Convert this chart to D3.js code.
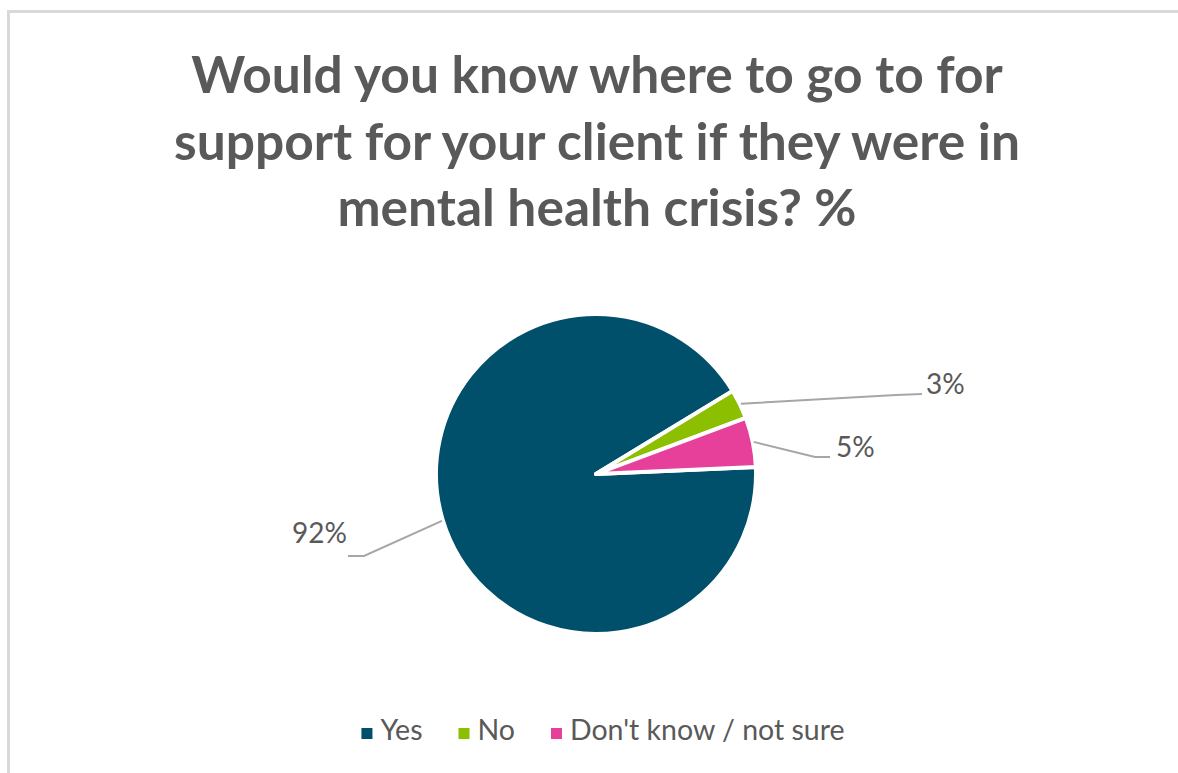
<!DOCTYPE html>
<html>
<head>
<meta charset="utf-8">
<script src="https://cdn.jsdelivr.net/npm/d3@7"></script>
<style>
  html, body { margin: 0; padding: 0; background: #fff; }
  svg { display: block; }
</style>
</head>
<body>
<svg id="chart" width="1178" height="773"></svg>
<script>
// Survey answers and their shares (percent)
const categories = ["Yes", "No", "Don't know / not sure"];
const values = [92, 3, 5];
const colors = ["#004f6b", "#8cbf00", "#e6409a"];
const titleLines = [
  "Would you know where to go to for",
  "support for your client if they were in",
  "mental health crisis? %"
];

const W = 1178, H = 773;
const svg = d3.select("#chart");
const FONT = "Lato, 'Open Sans', 'DejaVu Sans', sans-serif";

// chart frame
svg.append("rect")
  .attr("x", 8.5).attr("y", 11.5)
  .attr("width", W + 10).attr("height", H + 10)
  .attr("fill", "#fff")
  .attr("stroke", "#d9d9d9").attr("stroke-width", 3);

// title
svg.append("g").selectAll("text")
  .data(titleLines)
  .join("text")
  .attr("x", 597)
  .attr("y", (d, i) => 93 + i * 66.5)
  .attr("text-anchor", "middle")
  .attr("font-family", FONT)
  .attr("font-weight", 700)
  .attr("font-size", 51.5)
  .attr("fill", "#595959")
  .text(d => d);

// pie
const cx = 596, cy = 474, R = 160;
const start = 87.5 * Math.PI / 180;
const pie = d3.pie().sort(null).value(d => d)
  .startAngle(start).endAngle(start + 2 * Math.PI);
const arcs = pie(values);
const arc = d3.arc().innerRadius(0).outerRadius(R);

const g = svg.append("g").attr("transform", `translate(${cx},${cy})`);
g.selectAll("path")
  .data(arcs)
  .join("path")
  .attr("d", arc)
  .attr("fill", (d, i) => colors[i])
  .attr("stroke", "#fff")
  .attr("stroke-width", 4)
  .attr("stroke-linejoin", "round");

// data label placement: elbow and end of each leader, relative to the pie centre
const labelLayout = [
  { elbow: [-232, 82], end: [-248, 82], anchor: "end",   dx: -1, dy: -13 },
  { elbow: [300, -79], end: [326, -80], anchor: "start", dx: 4,  dy: 0 },
  { elbow: [219, -17], end: [234, -17], anchor: "start", dx: 6,  dy: 0 }
];

const mid = d => (d.startAngle + d.endAngle) / 2;
const polar = (a, r) => [Math.sin(a) * r, -Math.cos(a) * r];

g.selectAll("polyline")
  .data(arcs)
  .join("polyline")
  .attr("points", (d, i) => {
    const p0 = polar(mid(d), R + 1);
    const L = labelLayout[i];
    return [p0, L.elbow, L.end].map(p => p.join(",")).join(" ");
  })
  .attr("fill", "none")
  .attr("stroke", "#a6a6a6")
  .attr("stroke-width", 2);

g.selectAll("text.lbl")
  .data(arcs)
  .join("text")
  .attr("class", "lbl")
  .attr("x", (d, i) => labelLayout[i].end[0] + labelLayout[i].dx)
  .attr("y", (d, i) => labelLayout[i].end[1] + labelLayout[i].dy)
  .attr("text-anchor", (d, i) => labelLayout[i].anchor)
  .attr("font-family", FONT)
  .attr("font-size", 28)
  .attr("fill", "#595959")
  .text(d => d.data + "%");

// legend
const legend = svg.append("g");
const items = legend.selectAll("g")
  .data(categories)
  .join("g");
items.append("rect")
  .attr("width", 11).attr("height", 11)
  .attr("y", -12)
  .attr("fill", (d, i) => colors[i]);
items.append("text")
  .attr("x", 19)
  .attr("font-family", FONT)
  .attr("font-size", 28.5)
  .attr("fill", "#595959")
  .text(d => d);

let x = 0;
const gap = 36;
items.each(function () {
  const w = 19 + d3.select(this).select("text").node().getComputedTextLength();
  d3.select(this).attr("transform", `translate(${x},0)`);
  x += w + gap;
});
const total = x - gap;
legend.attr("transform", `translate(${603 - total / 2},740)`);
</script>
</body>
</html>
